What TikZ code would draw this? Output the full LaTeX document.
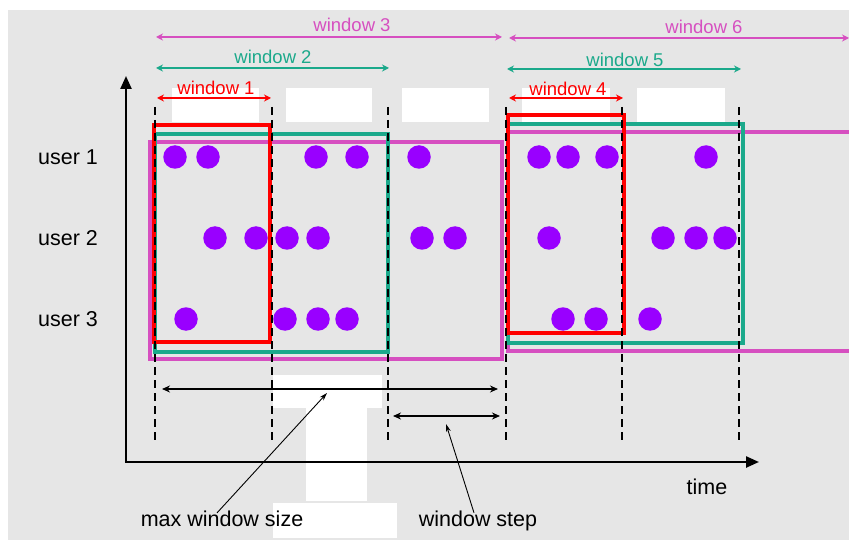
\documentclass[tikz,border=0pt]{standalone}
\usepackage{fontspec}
\setmainfont{Liberation Sans}
\usetikzlibrary{arrows.meta}
\definecolor{bggray}{HTML}{E6E6E6}
\definecolor{winred}{HTML}{FF0000}
\definecolor{winteal}{HTML}{1BA98B}
\definecolor{winpink}{HTML}{D64FC0}
\definecolor{dotpurple}{HTML}{9900FF}
\tikzset{
	winbox/.style={line width=3.8pt},
	winspan/.style={{Stealth[length=7pt,width=7pt]}-{Stealth[length=7pt,width=7pt]}, line width=1.4pt},
	winlab/.style={inner sep=0pt, font=\fontsize{18.5}{22}\selectfont},
	slotline/.style={line width=2pt, dash pattern=on 8pt off 5pt},
	axis/.style={-{Triangle[length=13pt,width=11pt]}, line width=2.4pt},
	measure/.style={{Stealth[length=8pt,width=7pt]}-{Stealth[length=8pt,width=7pt]}, line width=2pt},
	pointer/.style={-{Stealth[length=8pt,width=5pt]}, line width=0.9pt},
	blacklab/.style={inner sep=0pt, font=\fontsize{21.5}{25}\selectfont},
	event/.style={circle, fill=dotpurple, minimum size=23.5pt, inner sep=0pt}
}
\begin{document}
\begin{tikzpicture}[x=1pt,y=-1pt]
	\useasboundingbox (0,0) rectangle (849,540);
	%background
	\fill[bggray] (8,10) rectangle (849,540);
	%white patches
	\foreach \xa/\xb in {172/259,286/372,402/489,522/610,637/725}
		\fill[white] (\xa,88) rectangle (\xb,122);
	\fill[white] (273,375) rectangle (382,408);
	\fill[white] (306,407) rectangle (367,501);
	\fill[white] (273,503) rectangle (397,538);

	%window labels and spans
	\node[winlab, winred] (lab1) at (216,88) {window 1};
	\node[winlab, winteal] (lab2) at (273,57) {window 2};
	\node[winlab, winpink] (lab3) at (352,25) {window 3};
	\node[winlab, winred] (lab4) at (568,89) {window 4};
	\node[winlab, winteal] (lab5) at (625,60) {window 5};
	\node[winlab, winpink] (lab6) at (704,27) {window 6};
	\coordinate (s1a) at (157,98);  \coordinate (s1b) at (271,98);
	\coordinate (s2a) at (156,68);  \coordinate (s2b) at (389,68);
	\coordinate (s3a) at (156,37);  \coordinate (s3b) at (502,37);
	\coordinate (s4a) at (509,98);  \coordinate (s4b) at (623,98);
	\coordinate (s5a) at (507,69);  \coordinate (s5b) at (741,69);
	\coordinate (s6a) at (509,38);  \coordinate (s6b) at (849,38);
	\draw[winspan, winred] (s1a) -- (s1b);
	\draw[winspan, winteal] (s2a) -- (s2b);
	\draw[winspan, winpink] (s3a) -- (s3b);
	\draw[winspan, winred] (s4a) -- (s4b);
	\draw[winspan, winteal] (s5a) -- (s5b);
	\draw[winspan, winpink] (s6a) -- (s6b);

	%window boxes
	\draw[winbox, winpink] (150,142) rectangle (502,359);
	\draw[winbox, winpink] (856,132) -- (508,132) -- (508,351) -- (856,351);
	\draw[winbox, winteal] (155,134) rectangle (388,352);
	\draw[winbox, winteal] (508,124) rectangle (743,343);
	\draw[winbox, winred] (154,125) rectangle (270,342);
	\draw[winbox, winred] (508,115) rectangle (624,333);

	%slot boundaries
	\foreach \xs in {155,272,388,506,622,739}
		\draw[slotline] (\xs,107) -- (\xs,441);

	%axes
	\coordinate (origin) at (126,462);
	\coordinate (ytop) at (126,76);
	\coordinate (xend) at (759,462);
	\draw[axis] (origin) -- (ytop);
	\draw[axis] ([xshift=-1.2pt]origin) -- (xend);

	%users
	\node[blacklab] (user1) at (68,157) {user 1};
	\node[blacklab] (user2) at (68,238) {user 2};
	\node[blacklab] (user3) at (68,319) {user 3};

	%events
	\foreach \xe [count=\i] in {175,208,316,357,419,539,568,607,706}
		\node[event] (ea\i) at (\xe,157) {};
	\foreach \xe [count=\i] in {215,256,287,318,422,455,549,663,696,725}
		\node[event] (eb\i) at (\xe,238) {};
	\foreach \xe [count=\i] in {186,285,318,347,563,596,650}
		\node[event] (ec\i) at (\xe,319) {};

	%max window size and step
	\coordinate (ma) at (162,389); \coordinate (mb) at (498,389);
	\coordinate (sa) at (393,416); \coordinate (sb) at (500,416);
	\draw[measure] (ma) -- (mb);
	\draw[measure] (sa) -- (sb);
	\coordinate (maxtip) at (327,393);
	\coordinate (steptip) at (446,424);
	\node[blacklab] (maxlab) at (222,519) {max window size};
	\node[blacklab] (steplab) at (478,521) {window step};
	\node[blacklab] (timelab) at (707,487) {time};
	\draw[pointer] ([xshift=-5pt,yshift=-2pt]maxlab.north) -- (maxtip);
	\draw[pointer] ([xshift=-4pt,yshift=-2pt]steplab.north) -- (steptip);
\end{tikzpicture}
\end{document}
